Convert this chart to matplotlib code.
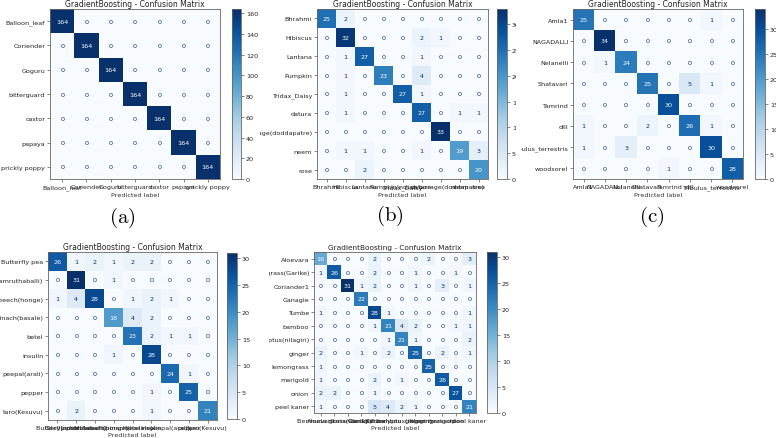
import matplotlib.pyplot as plt
import numpy as np
from matplotlib.transforms import Bbox, TransformedBbox

W, H = 776, 439

labels_a = ["Balloon_leaf", "Coriender", "Goguru", "bitterguard", "castor",
            "papaya", "prickly poppy"]
cm_a = [[164, 0, 0, 0, 0, 0, 0],
        [0, 164, 0, 0, 0, 0, 0],
        [0, 0, 164, 0, 0, 0, 0],
        [0, 0, 0, 164, 0, 0, 0],
        [0, 0, 0, 0, 164, 0, 0],
        [0, 0, 0, 0, 0, 164, 0],
        [0, 0, 0, 0, 0, 0, 164]]

labels_b = ["Bhrahmi", "Hibiscus", "Lantana", "Pumpkin", "Tridax_Daisy",
            "datura", "Indian borage(doddapatre)", "neem", "rose"]
cm_b = [[25, 2, 0, 0, 0, 0, 0, 0, 0],
        [0, 32, 0, 0, 0, 2, 1, 0, 0],
        [0, 1, 27, 0, 0, 1, 0, 0, 0],
        [0, 1, 0, 23, 0, 4, 0, 0, 0],
        [0, 1, 0, 0, 27, 1, 0, 0, 0],
        [0, 1, 0, 0, 0, 27, 0, 1, 1],
        [0, 0, 0, 0, 0, 0, 33, 0, 0],
        [0, 1, 1, 0, 0, 1, 0, 19, 3],
        [0, 0, 2, 0, 0, 0, 0, 0, 20]]

labels_c = ["Amla1", "NAGADALLI", "Nelanelli", "Shatavari", "Tamrind",
            "dill", "Tribulus_terrestris", "woodsorel"]
cm_c = [[25, 0, 0, 0, 0, 0, 1, 0],
        [0, 34, 0, 0, 0, 0, 0, 0],
        [0, 1, 24, 0, 0, 0, 0, 0],
        [0, 0, 0, 25, 0, 5, 1, 0],
        [0, 0, 0, 0, 30, 0, 0, 0],
        [1, 0, 0, 2, 0, 26, 1, 0],
        [1, 0, 3, 0, 0, 0, 30, 0],
        [0, 0, 0, 0, 1, 0, 0, 28]]

labels_d = ["Butterfly pea", "Giloy(amruthaballi)", "Indian beech(honge)",
            "Malabar spinach(basale)", "betel", "insulin", "peepal(arali)",
            "pepper", "taro(Kesuvu)"]
cm_d = [[26, 1, 2, 1, 2, 2, 0, 0, 0],
        [0, 31, 0, 1, 0, 0, 0, 0, 0],
        [1, 4, 28, 0, 1, 2, 1, 0, 0],
        [0, 0, 0, 18, 4, 2, 0, 0, 0],
        [0, 0, 0, 0, 23, 2, 1, 1, 0],
        [0, 0, 0, 1, 0, 28, 0, 0, 0],
        [0, 0, 0, 0, 0, 0, 24, 1, 0],
        [0, 0, 0, 0, 0, 1, 0, 25, 0],
        [0, 2, 0, 0, 0, 1, 0, 0, 21]]

labels_e = ["Aloevara", "Bermuda grass(Garike)", "Coriander1", "Ganagle",
            "Tumbe", "bamboo", "Eucalyptus(nilagiri)", "ginger", "lemongrass",
            "marigold", "onion", "peel kaner"]
cm_e = [[16, 0, 0, 0, 2, 0, 0, 0, 2, 0, 0, 3],
        [1, 26, 0, 0, 2, 0, 0, 1, 0, 0, 1, 0],
        [0, 0, 31, 1, 2, 0, 0, 1, 0, 3, 0, 1],
        [0, 0, 0, 22, 0, 0, 0, 0, 0, 0, 0, 0],
        [1, 0, 0, 0, 28, 1, 0, 0, 0, 0, 0, 1],
        [0, 0, 0, 0, 1, 21, 4, 2, 0, 0, 1, 1],
        [0, 0, 0, 0, 0, 1, 21, 1, 0, 0, 0, 2],
        [2, 0, 0, 1, 0, 2, 0, 25, 0, 2, 0, 1],
        [1, 0, 0, 0, 0, 0, 0, 0, 25, 0, 0, 0],
        [1, 0, 0, 0, 2, 0, 1, 0, 0, 26, 0, 0],
        [2, 2, 0, 0, 1, 0, 0, 0, 0, 0, 27, 0],
        [1, 0, 0, 0, 5, 4, 2, 1, 0, 0, 0, 21]]

plt.rcParams['mathtext.fontset'] = 'cm'

fig = plt.figure(figsize=(W / 100, H / 100), dpi=100)


def px_rect(x0, y0, x1, y1):
    # pixel box (top-left origin) -> figure fraction rect
    return [x0 / W, 1 - y1 / H, (x1 - x0) / W, (y1 - y0) / H]


def draw_panel(cm, labels, ax_px, cb_px, clip_px, fs=4.6, title_fs=5.5):
    cm = np.array(cm)
    ax = fig.add_axes(px_rect(*ax_px))
    cax = fig.add_axes(px_rect(*cb_px))
    im = ax.imshow(cm, cmap='Blues', aspect='auto', interpolation='nearest')
    cb = fig.colorbar(im, cax=cax)
    n = len(labels)
    thresh = (cm.max() + cm.min()) / 2.0
    for i in range(n):
        for j in range(n):
            color = im.cmap(1.0) if cm[i, j] < thresh else im.cmap(0.0)
            ax.text(j, i, str(cm[i, j]), ha='center', va='center',
                    color=color, fontsize=fs)
    ax.set_xticks(range(n), labels)
    ax.set_yticks(range(n), labels)
    ax.set_xlabel('Predicted label', fontsize=fs, labelpad=1.5, color='#333333')
    ax.set_title('GradientBoosting - Confusion Matrix', fontsize=title_fs,
                 pad=2.5, color='#222222')
    ax.tick_params(labelsize=fs, length=2, width=0.5, pad=1.5,
                   colors='#555555', labelcolor='#222222')
    cax.tick_params(labelsize=fs, length=2, width=0.5, pad=1.5,
                    colors='#555555', labelcolor='#222222')
    for s in ax.spines.values():
        s.set_linewidth(0.6)
        s.set_color('#666666')
    cb.outline.set_linewidth(0.6)
    cb.outline.set_edgecolor('#666666')
    x0, y0, x1, y1 = clip_px
    clip = TransformedBbox(Bbox.from_extents(x0 / W, 1 - y1 / H, x1 / W, 1 - y0 / H),
                           fig.transFigure)
    return ax, cax, clip


panels = [
    draw_panel(cm_a, labels_a, (50, 10, 220, 180), (232, 10, 241, 180), (0, 0, 258, 235)),
    draw_panel(cm_b, labels_b, (317, 10, 488, 180), (497, 10, 507, 180), (260, 0, 516, 235)),
    draw_panel(cm_c, labels_c, (573, 10, 743, 180), (755, 10, 765, 180), (521, 0, 776, 235)),
    draw_panel(cm_d, labels_d, (48, 253, 217, 421), (227, 254, 237, 420), (0, 238, 268, 439)),
    draw_panel(cm_e, labels_e, (314, 253, 476, 414), (487, 253, 497, 414), (269, 238, 535, 439),
               title_fs=5.35),
]

fig.text(122 / W, 1 - 218 / H, r'$\mathrm{(a)}$', ha='center', va='center', fontsize=15)
fig.text(390 / W, 1 - 216 / H, r'$\mathrm{(b)}$', ha='center', va='center', fontsize=15)
fig.text(652 / W, 1 - 217 / H, r'$\mathrm{(c)}$', ha='center', va='center', fontsize=15)

# clip the tick labels like the cropped source images
fig.canvas.draw()
for ax, cax, clip in panels:
    texts = (ax.get_xticklabels() + ax.get_yticklabels()
             + cax.get_yticklabels())
    for t in texts:
        t.set_clip_box(clip)
        t.set_clip_on(True)

fig.savefig('out.png', dpi=100)
